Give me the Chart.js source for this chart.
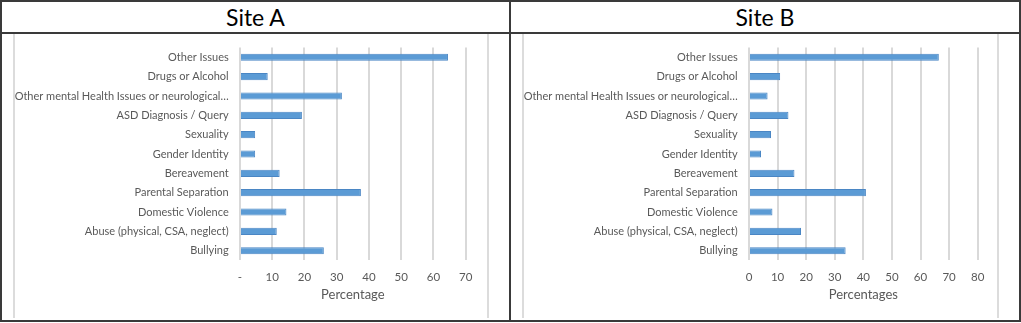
<!DOCTYPE html>
<html>
<head>
<meta charset="utf-8">
<script src="https://cdn.jsdelivr.net/npm/chart.js@4"></script>
<style>
  body { margin: 0; background: #fff; }
  #wrap { position: relative; width: 1021px; height: 323px; overflow: hidden; }
  .line { position: absolute; background: #3a3a3a; }
  .soft { position: absolute; background: #dcdcdc; width: 2px; top: 34px; height: 284px; }
  .title { position: absolute; top: 2px; height: 30px; line-height: 31px; text-align: center;
           font-family: Lato, sans-serif; font-size: 23px; color: #000; }
  canvas { position: absolute; top: 34px; }
</style>
</head>
<body>
<div id="wrap">
  <!-- frame -->
  <div class="line" style="left:0;top:0;width:1021px;height:2px"></div>
  <div class="line" style="left:0;top:32px;width:1021px;height:2px"></div>
  <div class="line" style="left:0;top:320px;width:1021px;height:2px"></div>
  <div class="line" style="left:0;top:0;width:2px;height:322px"></div>
  <div class="line" style="left:509px;top:0;width:2px;height:322px"></div>
  <div class="line" style="left:1019px;top:0;width:2px;height:322px"></div>
  <!-- light chart-area lines -->
  <div class="soft" style="left:13px"></div>
  <div class="soft" style="left:487px"></div>
  <div class="soft" style="left:522px"></div>
  <div class="soft" style="left:997px"></div>

  <div class="title" style="left:2px;width:507px">Site A</div>
  <div class="title" style="left:511px;width:508px">Site B</div>

  <canvas id="chartA" width="507" height="285" style="left:2px"></canvas>
  <canvas id="chartB" width="508" height="285" style="left:511px"></canvas>
</div>

<script>
// categories (top to bottom as shown)
const categories = [
    "Other Issues",
    "Drugs or Alcohol",
    "Other mental Health Issues or neurological…",
    "ASD Diagnosis / Query",
    "Sexuality",
    "Gender Identity",
    "Bereavement",
    "Parental Separation",
    "Domestic Violence",
    "Abuse (physical, CSA, neglect)",
    "Bullying"
];

// percentages
const siteAValues = [64.5, 8.6, 31.6, 19.2, 4.7, 4.7, 12.3, 37.5, 14.4, 11.4, 26.0];
const siteBValues = [66.4, 10.9, 6.5, 13.8, 7.7, 4.2, 15.9, 40.9, 8.2, 18.2, 33.8];

// tick labels of the x axes
const siteATicks = ["-", "10", "20", "30", "40", "50", "60", "70"];
const siteBTicks = ["0", "10", "20", "30", "40", "50", "60", "70", "80"];

const textColor = "#595959";
const barFill = "#5b9bd5";
const barEdge = "#4a86c4";

function makeChart(canvasId, values, tickLabels, axisTitle, padRight) {
    const maxVal = (tickLabels.length - 1) * 10;
    new Chart(document.getElementById(canvasId), {
        type: "bar",
        data: {
            labels: categories,
            datasets: [{
                data: values,
                backgroundColor: barFill,
                borderColor: barEdge,
                borderWidth: 1,
                barPercentage: 0.37,
                categoryPercentage: 1
            }]
        },
        options: {
            indexAxis: "y",
            responsive: false,
            animation: false,
            layout: { padding: { top: 13.6, right: padRight, bottom: 16.2, left: 0 } },
            plugins: {
                legend: { display: false },
                tooltip: { enabled: false }
            },
            scales: {
                x: {
                    min: 0,
                    max: maxVal,
                    ticks: {
                        stepSize: 10,
                        padding: 10,
                        color: textColor,
                        font: { family: "Lato", size: 11.5 },
                        callback: (value, index) => tickLabels[index]
                    },
                    grid: { color: "#d9d9d9", lineWidth: 2, drawTicks: false },
                    border: { display: false },
                    title: {
                        display: true,
                        text: axisTitle,
                        color: textColor,
                        font: { family: "Lato", size: 13 },
                        padding: { top: 0, bottom: 0 }
                    },
                    afterFit: function (scale) {
                        scale.height = 42.4; // ticks + axis title
                    }
                },
                y: {
                    grid: { display: false, drawTicks: false },
                    border: { display: false },
                    ticks: {
                        padding: 11.3,
                        color: textColor,
                        font: { family: "Lato", size: 11 }
                    },
                    afterFit: function (scale) {
                        scale.width = 238; // plot starts at the same place in both panels
                        scale.paddingTop = 0;
                        scale.paddingBottom = 0;
                    }
                }
            }
        }
    });
}

makeChart("chartA", siteAValues, siteATicks, "Percentage", 43.3);
makeChart("chartB", siteBValues, siteBTicks, "Percentages", 41.3);
</script>
</body>
</html>
